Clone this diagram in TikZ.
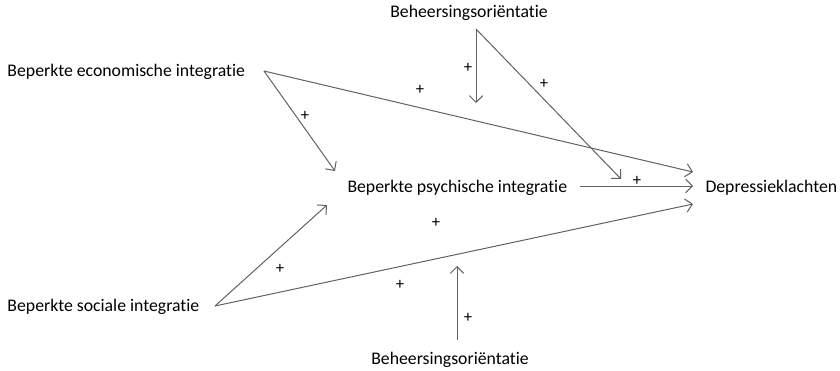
\documentclass[tikz,border=0pt]{standalone}
\usepackage{fontspec}
\setmainfont[Ligatures=NoCommon]{Carlito}
\usetikzlibrary{arrows.meta}

\begin{document}
\begin{tikzpicture}[x=0.75pt,y=-0.75pt,line width=0.75pt,
  lbl/.style={inner sep=0pt,font=\fontsize{13.3}{15}\selectfont},
  pls/.style={inner sep=0pt,font=\fontsize{12.5}{14}\selectfont},
  arr/.style={draw=black!62,-{Straight Barb[length=5pt,width=10pt]}}]
\useasboundingbox (0,0) rectangle (840,371);

% variables
\node[lbl,anchor=west](econ)at(7,72){Beperkte economische integratie};
\node[lbl,anchor=west](psych)at(347,188){Beperkte psychische integratie};
\node[lbl,anchor=west](soc)at(7,307){Beperkte sociale integratie};
\node[lbl,anchor=west](depr)at(705,188){Depressieklachten};
\node[lbl](behtop)at(469,13){Beheersingsori\"entatie};
\node[lbl](behbot)at(450,360){Beheersingsori\"entatie};

% end points
\coordinate(econout)at(264,71);
\coordinate(socout)at(215,306);
\coordinate(behfork)at(476,29);
\coordinate(behbase)at(457,340);
\coordinate(psychin1)at(335,171);
\coordinate(psychin2)at(327,205);
\coordinate(psychout)at(580,186);
\coordinate(deprin1)at(693,172);
\coordinate(deprin2)at(693,186);
\coordinate(deprin3)at(693,204);
\coordinate(modtop1)at(476,103);
\coordinate(modtop2)at(621,179);
\coordinate(modbot)at(457,266);

\draw[arr](econout)--(psychin1);
\draw[arr](econout)--(deprin1);
\draw[arr](socout)--(psychin2);
\draw[arr](socout)--(deprin3);
\draw[arr](psychout)--(deprin2);
\draw[arr](behfork)--(modtop1);
\draw[arr](behfork)--(modtop2);
\draw[arr](behbase)--(modbot);

% signs
\node[pls](p1)at(305,116){+};
\node[pls](p2)at(420,90){+};
\node[pls](p3)at(468,68){+};
\node[pls](p4)at(544,84){+};
\node[pls](p5)at(637,181){+};
\node[pls](p6)at(436,223){+};
\node[pls](p7)at(280,269){+};
\node[pls](p8)at(400,285){+};
\node[pls](p9)at(468,318){+};

\end{tikzpicture}
\end{document}
